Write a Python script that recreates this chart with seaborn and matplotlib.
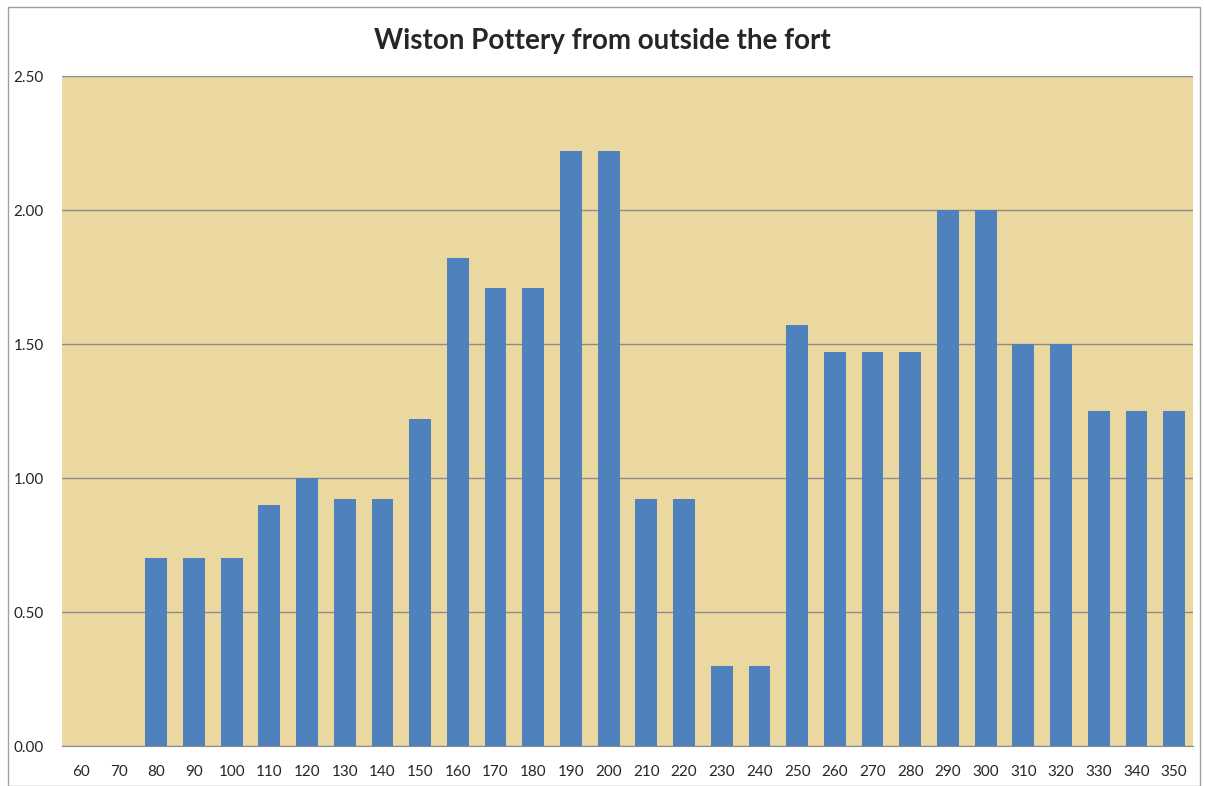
import matplotlib
matplotlib.use('Agg')
import matplotlib.pyplot as plt
import seaborn as sns
import pandas as pd
from matplotlib.patches import Rectangle

# valores
angulos = [60, 70, 80, 90, 100, 110, 120, 130, 140, 150,
           160, 170, 180, 190, 200, 210, 220, 230, 240, 250,
           260, 270, 280, 290, 300, 310, 320, 330, 340, 350]
valores = [0.0, 0.0, 0.70, 0.70, 0.70, 0.90, 1.00, 0.92, 0.92, 1.22,
           1.82, 1.71, 1.71, 2.22, 2.22, 0.92, 0.92, 0.30, 0.30, 1.57,
           1.47, 1.47, 1.47, 2.00, 2.00, 1.50, 1.50, 1.25, 1.25, 1.25]
titulo = 'Wiston Pottery from outside the fort'

df = pd.DataFrame({'angulo': [str(a) for a in angulos], 'valor': valores})

sns.set_style('white')
plt.rcParams['font.family'] = ['Lato', 'DejaVu Sans']

fig = plt.figure(figsize=(12.05, 7.86), dpi=100)
ax = fig.add_axes([62 / 1205, 40 / 786, (1193 - 62) / 1205, (746 - 76) / 786])
ax.set_facecolor('#EBD7A0')

sns.barplot(data=df, x='angulo', y='valor', color='#4F81BD', width=0.58,
            saturation=1, linewidth=0, edgecolor='none', ax=ax, zorder=3)

ax.set_ylim(0, 2.5)
ax.set_yticks([0, 0.5, 1.0, 1.5, 2.0, 2.5])
ax.set_yticklabels([f'{v:.2f}' for v in [0, 0.5, 1.0, 1.5, 2.0, 2.5]], fontsize=11)
ax.tick_params(axis='x', labelsize=11, length=0, pad=14)
ax.tick_params(axis='y', length=0, pad=13)
ax.grid(axis='y', color='#8C8C8C', linewidth=1, zorder=1)
ax.set_axisbelow(True)
for s in ['left', 'right', 'top']:
    ax.spines[s].set_visible(False)
ax.spines['bottom'].set_color('#8C8C8C')
ax.set_xlabel('')
ax.set_ylabel('')

fig.text(0.5, 0.948, titulo, ha='center', va='center', fontsize=20, fontweight='bold')
fig.patches.append(Rectangle((8 / 1205, 0), 1192 / 1205, 779 / 786, transform=fig.transFigure,
                             fill=False, edgecolor='#A0A0A0', linewidth=1))

plt.savefig('out.png', dpi=100)
